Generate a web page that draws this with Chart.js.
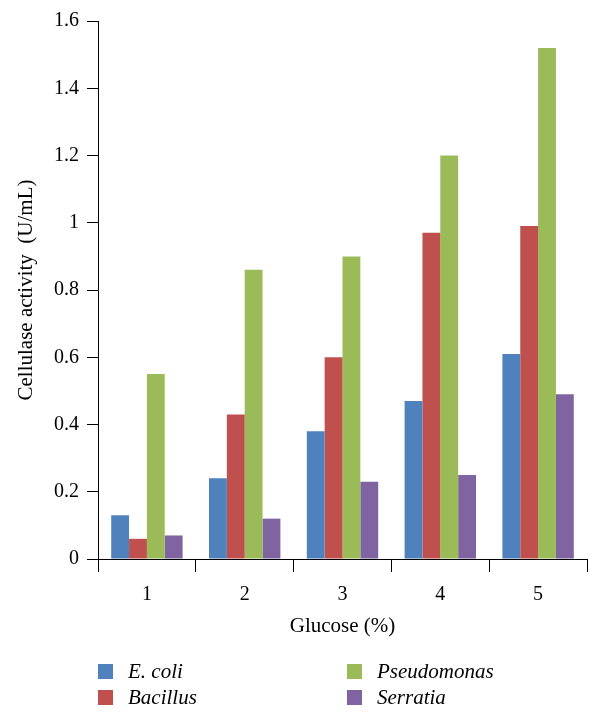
<!DOCTYPE html>
<html>
<head>
<meta charset="utf-8">
<script src="https://cdn.jsdelivr.net/npm/chart.js@4/dist/chart.umd.min.js"></script>
<style>
  html, body { margin: 0; padding: 0; background: #fff; }
  #wrap { position: relative; width: 600px; height: 718px; }
  canvas { position: absolute; left: 0; top: 0; }
  .lg { position: absolute; font-family: "Liberation Serif", serif; font-style: italic; font-size: 21px; color: #000; line-height: 22px; }
  .sw { position: absolute; width: 15px; height: 15px; }
</style>
</head>
<body>
<div id="wrap">
  <canvas id="c" width="600" height="718"></canvas>
  <div id="legend"></div>
</div>
<script>
const categories = ["1", "2", "3", "4", "5"];
const seriesNames = ["E. coli", "Bacillus", "Pseudomonas", "Serratia"];
const eColi = [0.13, 0.24, 0.38, 0.47, 0.61];
const bacillus = [0.06, 0.43, 0.60, 0.97, 0.99];
const pseudomonas = [0.55, 0.86, 0.90, 1.20, 1.52];
const serratia = [0.07, 0.12, 0.23, 0.25, 0.49];
const yTickLabels = ["0", "0.2", "0.4", "0.6", "0.8", "1", "1.2", "1.4", "1.6"];
const colors = ["#4F81BD", "#C0504D", "#9BBB59", "#8064A2"];

const seriesValues = [eColi, bacillus, pseudomonas, serratia];
const tickFont = { family: "'Liberation Serif', serif", size: 20 };
const titleFont = { family: "'Liberation Serif', serif", size: 21 };

new Chart(document.getElementById("c"), {
  type: "bar",
  data: {
    labels: categories,
    datasets: seriesNames.map((n, i) => ({
      label: n,
      data: seriesValues[i],
      backgroundColor: colors[i],
      borderWidth: 0,
      categoryPercentage: 0.73,
      barPercentage: 1.0
    }))
  },
  options: {
    responsive: false,
    animation: false,
    layout: { padding: { top: 21, right: 13, bottom: 75, left: 0 } },
    plugins: { legend: { display: false }, tooltip: { enabled: false } },
    scales: {
      x: {
        grid: { offset: true, drawOnChartArea: false, drawTicks: true, tickLength: 13, color: "#000", lineWidth: 1 },
        border: { display: true, color: "#000", width: 1 },
        ticks: { color: "#000", font: tickFont, padding: 11, maxRotation: 0 },
        title: { display: true, text: "Glucose (%)", color: "#000", font: titleFont, padding: { top: 5 } },
        afterFit: s => { s.height = 84; }
      },
      y: {
        min: 0, max: 1.6,
        grid: { drawOnChartArea: false, drawTicks: true, tickLength: 11, color: "#000", lineWidth: 1 },
        border: { display: true, color: "#000", width: 1 },
        ticks: {
          stepSize: 0.2, color: "#000", font: tickFont, padding: 8,
          callback: (v, i) => yTickLabels[i]
        },
        title: { display: true, text: "Cellulase activity  (U/mL)", color: "#000", font: titleFont, padding: { top: 14, bottom: 0 } },
        afterFit: s => { s.width = 98; }
      }
    }
  }
});

const lg = document.getElementById("legend");
const pos = [[98, 664], [98, 690], [347, 664], [347, 690]];
seriesNames.forEach((n, i) => {
  const sw = document.createElement("div");
  sw.className = "sw";
  sw.style.left = pos[i][0] + "px";
  sw.style.top = pos[i][1] + "px";
  sw.style.background = colors[i];
  lg.appendChild(sw);
  const t = document.createElement("div");
  t.className = "lg";
  t.textContent = n;
  t.style.left = (pos[i][0] + 30) + "px";
  t.style.top = (pos[i][1] - 4) + "px";
  lg.appendChild(t);
});
</script>
</body>
</html>
